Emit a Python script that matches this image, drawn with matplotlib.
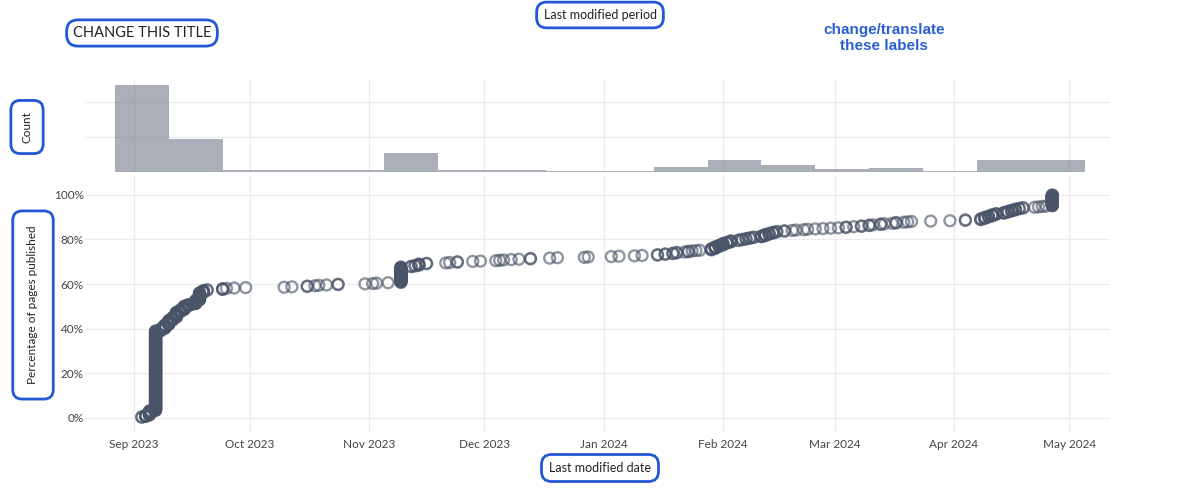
import numpy as np
import pandas as pd
import matplotlib
matplotlib.use("Agg")
import matplotlib.pyplot as plt
import matplotlib.dates as mdates
from matplotlib.ticker import FuncFormatter

# pages by last modified date (how many pages were last touched on that day)
mod_dates = [
    "2023-09-03", "2023-09-04", "2023-09-05", "2023-09-06 14:00", "2023-09-08", "2023-09-09",
    "2023-09-10", "2023-09-11", "2023-09-12", "2023-09-13", "2023-09-14", "2023-09-15",
    "2023-09-16", "2023-09-17", "2023-09-18", "2023-09-19", "2023-09-20",
    "2023-09-24", "2023-09-25", "2023-09-27", "2023-09-30",
    "2023-10-10", "2023-10-12", "2023-10-16", "2023-10-18", "2023-10-19", "2023-10-21",
    "2023-10-24", "2023-10-31", "2023-11-02", "2023-11-03",
    "2023-11-06", "2023-11-09 08:00", "2023-11-12", "2023-11-13", "2023-11-14", "2023-11-16",
    "2023-11-21", "2023-11-22", "2023-11-24", "2023-11-28", "2023-11-30",
    "2023-12-04", "2023-12-05", "2023-12-06", "2023-12-08", "2023-12-10", "2023-12-13",
    "2023-12-18", "2023-12-20", "2023-12-27", "2023-12-28",
    "2024-01-03", "2024-01-05", "2024-01-09", "2024-01-11",
    "2024-01-15", "2024-01-17", "2024-01-19", "2024-01-20", "2024-01-22", "2024-01-23",
    "2024-01-24", "2024-01-25", "2024-01-26",
    "2024-01-29", "2024-01-30", "2024-01-31", "2024-02-01", "2024-02-02", "2024-02-03",
    "2024-02-05", "2024-02-06", "2024-02-07", "2024-02-08", "2024-02-09",
    "2024-02-11", "2024-02-12", "2024-02-13", "2024-02-14", "2024-02-15", "2024-02-17",
    "2024-02-19", "2024-02-20", "2024-02-22", "2024-02-23",
    "2024-02-25", "2024-02-27", "2024-02-29", "2024-03-02", "2024-03-04", "2024-03-06", "2024-03-08",
    "2024-03-10", "2024-03-11", "2024-03-13", "2024-03-14", "2024-03-16", "2024-03-17",
    "2024-03-19", "2024-03-20", "2024-03-21",
    "2024-03-26", "2024-03-31", "2024-04-04",
    "2024-04-08", "2024-04-09", "2024-04-10", "2024-04-11", "2024-04-12", "2024-04-14",
    "2024-04-15", "2024-04-16", "2024-04-17", "2024-04-18", "2024-04-19",
    "2024-04-22", "2024-04-23", "2024-04-24", "2024-04-25", "2024-04-26 14:00",
]
page_counts = [
    2, 4, 12, 214, 6, 10,
    12, 8, 14, 6, 10, 4,
    2, 10, 20, 6, 2,
    3, 1, 1, 1,
    1, 1, 2, 1, 1, 1,
    2, 1, 1, 1,
    1, 42, 2, 2, 4, 2,
    1, 1, 2, 1, 1,
    1, 1, 1, 1, 1, 2,
    1, 1, 1, 1,
    1, 1, 1, 1,
    2, 2, 2, 2, 1, 2,
    1, 1, 1,
    4, 5, 4, 5, 3, 4,
    2, 2, 2, 2, 2,
    3, 4, 3, 3, 2, 2,
    1, 1, 1, 1,
    1, 1, 1, 1, 2, 1, 2,
    2, 1, 2, 1, 1, 2,
    1, 1, 1,
    1, 1, 2,
    3, 4, 3, 4, 3, 3,
    3, 3, 3, 2, 2,
    1, 1, 1, 1, 30,
]

title = "CHANGE THIS TITLE"
top_label = "Last modified period"
note = "change/translate\nthese labels"
hist_ylabel = "Count"
main_ylabel = "Percentage of pages published"
main_xlabel = "Last modified date"

# one row per page, sorted by date
pages = pd.Series(np.repeat(pd.to_datetime(mod_dates, format="mixed"), page_counts)).sort_values()
pct = np.arange(1, len(pages) + 1) / len(pages) * 100

text_col = "#444444"
box_col = "#2457d3"
grid_col = "#ebebeb"
font = "Lato"

fig = plt.figure(figsize=(12, 4.94), dpi=100)
ax_h = fig.add_axes([85 / 1200, 1 - 172 / 494, 1025 / 1200, 92 / 494])
ax = fig.add_axes([85 / 1200, 1 - 433 / 494, 1025 / 1200, 257 / 494], sharex=ax_h)

# histogram, two-week bins
bins = pd.date_range("2023-08-27", "2024-05-05", freq="14D")
ax_h.hist(mdates.date2num(pages), bins=mdates.date2num(bins), color="#5d6679", alpha=0.52, zorder=2)
ax_h.set_ylim(0, 262)
ax_h.set_yticks([0, 100, 200])
ax_h.tick_params(labelleft=False, labelbottom=False, length=0)

# cumulative scatter
ax.scatter(mdates.date2num(pages), pct, s=62, facecolors="none", edgecolors="#4a5468",
           linewidths=1.7, alpha=0.62, zorder=3)
ax.set_ylim(-6.9, 108.5)
ax.set_yticks([0, 20, 40, 60, 80, 100])
ax.yaxis.set_major_formatter(FuncFormatter(lambda v, p: f"{v:.0f}%"))
ax.set_xlim(mdates.date2num(pd.Timestamp("2023-08-19 06:00")),
            mdates.date2num(pd.Timestamp("2024-05-11 14:00")))
ax.xaxis.set_major_locator(mdates.MonthLocator())
ax.xaxis.set_major_formatter(mdates.DateFormatter("%b %Y"))
ax.tick_params(length=0, labelsize=8.5, colors=text_col)
ax.tick_params(axis="x", pad=4)
ax.tick_params(axis="y", pad=1)
for lab in ax.get_xticklabels() + ax.get_yticklabels():
    lab.set_fontfamily(font)

for a in (ax, ax_h):
    a.grid(True, color=grid_col, lw=0.9, zorder=0)
    a.set_axisbelow(True)
    for s in a.spines.values():
        s.set_visible(False)

def boxed(x, y, s, size, rot=0, pad=0.45):
    fig.text(x, y, s, fontsize=size, family=font, color="#222222", rotation=rot,
             ha="center", va="center",
             bbox=dict(boxstyle=f"round,pad={pad},rounding_size=0.8", fc="white",
                       ec=box_col, lw=2.0))

boxed(142 / 1200, 1 - 33 / 494, title, 10.5, pad=0.42)
boxed(600 / 1200, 1 - 15 / 494, top_label, 9, pad=0.55)
boxed(27 / 1200, 1 - 127 / 494, hist_ylabel, 8.5, rot=90, pad=0.9)
boxed(33 / 1200, 1 - 305 / 494, main_ylabel, 8.5, rot=90, pad=1.25)
boxed(600 / 1200, 1 - 468 / 494, main_xlabel, 9, pad=0.6)

fig.text(884 / 1200, 1 - 38 / 494, note, fontsize=11, family="Liberation Sans",
         fontweight="bold", color="#2c5fd0", ha="center", va="center", linespacing=1.12)

fig.savefig("out.png", dpi=100, facecolor="white")
